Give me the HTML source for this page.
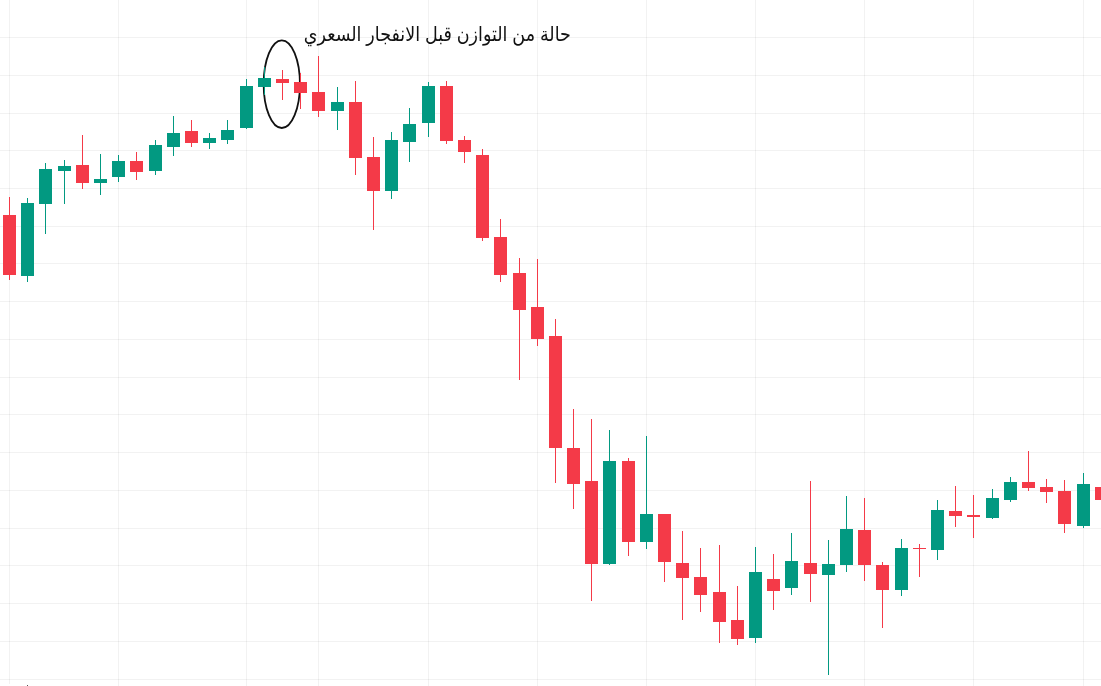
<!DOCTYPE html>
<html lang="ar">
<head>
<meta charset="utf-8">
<title>chart</title>
<style>
html,body{margin:0;padding:0;background:#fff;}
body{width:1101px;height:686px;overflow:hidden;position:relative;}
svg{position:absolute;left:0;top:0;display:block;}
.lbl{position:absolute;right:530px;top:21.5px;font-family:"Liberation Sans","DejaVu Sans",sans-serif;font-size:20px;line-height:24px;color:#111;white-space:nowrap;direction:rtl;transform-origin:100% 50%;transform:scaleX(0.876);}
</style>
</head>
<body>
<svg width="1101" height="686" viewBox="0 0 1101 686">
<g fill="rgba(0,0,0,0.052)" shape-rendering="crispEdges">
<rect x="0" y="37" width="1101" height="1"/>
<rect x="0" y="75" width="1101" height="1"/>
<rect x="0" y="113" width="1101" height="1"/>
<rect x="0" y="150" width="1101" height="1"/>
<rect x="0" y="188" width="1101" height="1"/>
<rect x="0" y="226" width="1101" height="1"/>
<rect x="0" y="263" width="1101" height="1"/>
<rect x="0" y="301" width="1101" height="1"/>
<rect x="0" y="339" width="1101" height="1"/>
<rect x="0" y="377" width="1101" height="1"/>
<rect x="0" y="414" width="1101" height="1"/>
<rect x="0" y="452" width="1101" height="1"/>
<rect x="0" y="490" width="1101" height="1"/>
<rect x="0" y="528" width="1101" height="1"/>
<rect x="0" y="565" width="1101" height="1"/>
<rect x="0" y="603" width="1101" height="1"/>
<rect x="0" y="641" width="1101" height="1"/>
<rect x="0" y="679" width="1101" height="1"/>
<rect x="9" y="0" width="1" height="684"/>
<rect x="118" y="0" width="1" height="686"/>
<rect x="246" y="0" width="1" height="686"/>
<rect x="318" y="0" width="1" height="686"/>
<rect x="428" y="0" width="1" height="686"/>
<rect x="537" y="0" width="1" height="686"/>
<rect x="646" y="0" width="1" height="686"/>
<rect x="755" y="0" width="1" height="686"/>
<rect x="864" y="0" width="1" height="686"/>
<rect x="973" y="0" width="1" height="686"/>
<rect x="1083" y="0" width="1" height="686"/>
</g>
<ellipse cx="281.8" cy="84.15" rx="18.15" ry="43.85" fill="none" stroke="#111" stroke-width="1.8"/>
<g fill="#f43a48" shape-rendering="crispEdges">
<rect x="9" y="197" width="1" height="83"/><rect x="3" y="215" width="13" height="60"/>
<rect x="82" y="135" width="1" height="54"/><rect x="76" y="165" width="13" height="18"/>
<rect x="136" y="152" width="1" height="28"/><rect x="130" y="161" width="13" height="11"/>
<rect x="191" y="120" width="1" height="27"/><rect x="185" y="131" width="13" height="12"/>
<rect x="282" y="70" width="1" height="30"/><rect x="276" y="79" width="13" height="4"/>
<rect x="300" y="73" width="1" height="36"/><rect x="294" y="82" width="13" height="11"/>
<rect x="318" y="56" width="1" height="61"/><rect x="312" y="92" width="13" height="19"/>
<rect x="355" y="81" width="1" height="94"/><rect x="349" y="102" width="13" height="56"/>
<rect x="373" y="137" width="1" height="93"/><rect x="367" y="157" width="13" height="34"/>
<rect x="446" y="81" width="1" height="63"/><rect x="440" y="86" width="13" height="55"/>
<rect x="464" y="136" width="1" height="27"/><rect x="458" y="140" width="13" height="12"/>
<rect x="482" y="149" width="1" height="92"/><rect x="476" y="155" width="13" height="83"/>
<rect x="500" y="219" width="1" height="63"/><rect x="494" y="237" width="13" height="38"/>
<rect x="519" y="258" width="1" height="122"/><rect x="513" y="273" width="13" height="37"/>
<rect x="537" y="259" width="1" height="87"/><rect x="531" y="307" width="13" height="32"/>
<rect x="555" y="319" width="1" height="164"/><rect x="549" y="336" width="13" height="112"/>
<rect x="573" y="409" width="1" height="100"/><rect x="567" y="448" width="13" height="36"/>
<rect x="591" y="419" width="1" height="182"/><rect x="585" y="481" width="13" height="83"/>
<rect x="628" y="458" width="1" height="98"/><rect x="622" y="461" width="13" height="81"/>
<rect x="664" y="514" width="1" height="68"/><rect x="658" y="514" width="13" height="48"/>
<rect x="682" y="531" width="1" height="89"/><rect x="676" y="563" width="13" height="15"/>
<rect x="700" y="548" width="1" height="64"/><rect x="694" y="577" width="13" height="18"/>
<rect x="719" y="545" width="1" height="98"/><rect x="713" y="592" width="13" height="30"/>
<rect x="737" y="586" width="1" height="59"/><rect x="731" y="620" width="13" height="19"/>
<rect x="773" y="554" width="1" height="56"/><rect x="767" y="579" width="13" height="12"/>
<rect x="810" y="481" width="1" height="121"/><rect x="804" y="563" width="13" height="11"/>
<rect x="864" y="498" width="1" height="83"/><rect x="858" y="530" width="13" height="35"/>
<rect x="882" y="562" width="1" height="66"/><rect x="876" y="565" width="13" height="25"/>
<rect x="919" y="544" width="1" height="33"/><rect x="913" y="548" width="13" height="1"/>
<rect x="955" y="486" width="1" height="41"/><rect x="949" y="511" width="13" height="5"/>
<rect x="973" y="495" width="1" height="43"/><rect x="967" y="515" width="13" height="2"/>
<rect x="1028" y="451" width="1" height="40"/><rect x="1022" y="482" width="13" height="6"/>
<rect x="1046" y="479" width="1" height="24"/><rect x="1040" y="487" width="13" height="5"/>
<rect x="1064" y="480" width="1" height="53"/><rect x="1058" y="491" width="13" height="33"/>
<rect x="1101" y="487" width="1" height="13"/><rect x="1095" y="487" width="13" height="13"/>
</g>
<g fill="#029981" shape-rendering="crispEdges">
<rect x="27" y="198" width="1" height="84"/><rect x="21" y="203" width="13" height="73"/>
<rect x="45" y="163" width="1" height="71"/><rect x="39" y="169" width="13" height="35"/>
<rect x="64" y="160" width="1" height="44"/><rect x="58" y="166" width="13" height="5"/>
<rect x="100" y="154" width="1" height="41"/><rect x="94" y="179" width="13" height="4"/>
<rect x="118" y="155" width="1" height="27"/><rect x="112" y="161" width="13" height="16"/>
<rect x="155" y="140" width="1" height="35"/><rect x="149" y="145" width="13" height="26"/>
<rect x="173" y="116" width="1" height="40"/><rect x="167" y="133" width="13" height="14"/>
<rect x="209" y="133" width="1" height="16"/><rect x="203" y="138" width="13" height="5"/>
<rect x="227" y="120" width="1" height="24"/><rect x="221" y="130" width="13" height="10"/>
<rect x="246" y="79" width="1" height="50"/><rect x="240" y="86" width="13" height="42"/>
<rect x="264" y="67" width="1" height="28"/><rect x="258" y="78" width="13" height="9"/>
<rect x="337" y="87" width="1" height="43"/><rect x="331" y="102" width="13" height="9"/>
<rect x="391" y="132" width="1" height="67"/><rect x="385" y="140" width="13" height="51"/>
<rect x="409" y="108" width="1" height="54"/><rect x="403" y="124" width="13" height="18"/>
<rect x="428" y="82" width="1" height="55"/><rect x="422" y="86" width="13" height="37"/>
<rect x="609" y="430" width="1" height="135"/><rect x="603" y="461" width="13" height="103"/>
<rect x="646" y="436" width="1" height="113"/><rect x="640" y="514" width="13" height="28"/>
<rect x="755" y="547" width="1" height="96"/><rect x="749" y="572" width="13" height="66"/>
<rect x="791" y="533" width="1" height="62"/><rect x="785" y="561" width="13" height="27"/>
<rect x="828" y="540" width="1" height="135"/><rect x="822" y="564" width="13" height="11"/>
<rect x="846" y="496" width="1" height="76"/><rect x="840" y="529" width="13" height="36"/>
<rect x="901" y="539" width="1" height="57"/><rect x="895" y="548" width="13" height="42"/>
<rect x="937" y="500" width="1" height="60"/><rect x="931" y="510" width="13" height="40"/>
<rect x="992" y="489" width="1" height="30"/><rect x="986" y="498" width="13" height="20"/>
<rect x="1010" y="477" width="1" height="25"/><rect x="1004" y="482" width="13" height="18"/>
<rect x="1083" y="473" width="1" height="55"/><rect x="1077" y="484" width="13" height="42"/>
</g>
<rect x="27" y="685" width="1" height="1" fill="#555"/>
</svg>
<div class="lbl">حالة من التوازن قبل الانفجار السعري</div>
</body>
</html>
